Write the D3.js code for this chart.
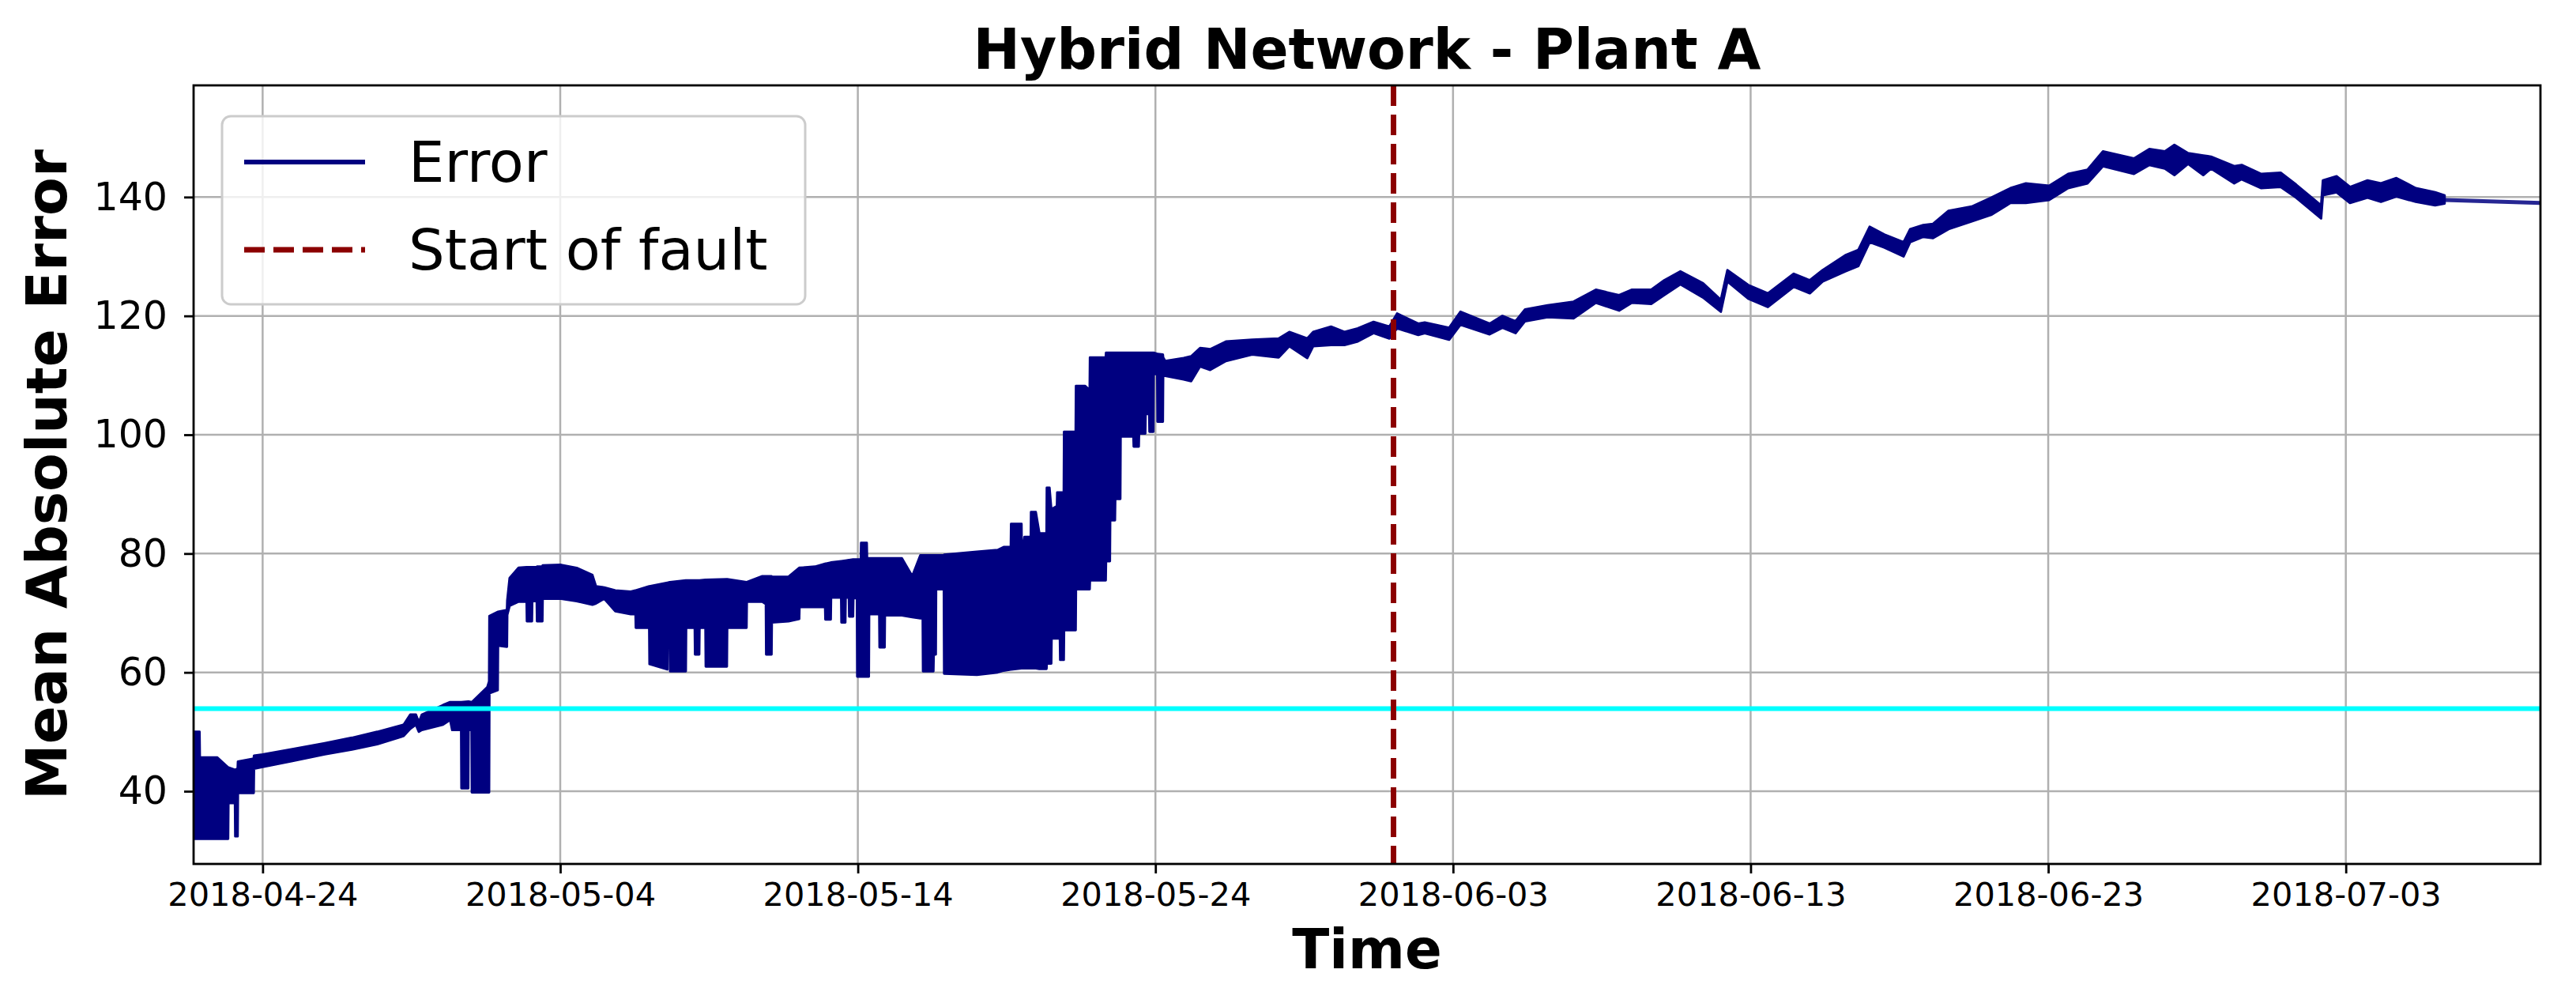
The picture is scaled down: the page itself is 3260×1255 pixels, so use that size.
<!DOCTYPE html>
<html>
<head>
<meta charset="utf-8">
<script src="https://cdn.jsdelivr.net/npm/d3@7"></script>
<style>
  html, body { margin: 0; padding: 0; background: #ffffff; }
  svg { display: block; font-family: "DejaVu Sans", sans-serif; }
</style>
</head>
<body>
<svg id="chart" width="3260" height="1255"></svg>
<script>
// ---------------- DATA ----------------
// Days are counted from this date (UTC).
const dayBase = "2018-04-24";

// Envelope of the noisy "Error" series: [day offset, upper edge, lower edge]
const bandApril = [
  [-2.32, 50.0, 32.0], [-2.12, 50.0, 32.0], [-2.11, 45.7, 32.0], [-1.53, 45.7, 32.0],
  [-1.16, 44.0, 32.0], [-1.15, 44.0, 38.0], [-0.93, 43.6, 38.0], [-0.92, 43.6, 32.4],
  [-0.84, 43.8, 32.4], [-0.83, 45.0, 39.7], [-0.30, 45.5, 39.7], [-0.29, 46.0, 43.8],
  [0.00, 46.2, 44.1], [1.00, 47.1, 45.1], [2.09, 48.1, 46.2], [3.00, 49.0, 47.0],
  [3.85, 50.0, 47.9], [4.74, 51.2, 49.3], [4.96, 52.9, 50.5], [5.15, 52.9, 51.2],
  [5.25, 51.6, 50.0], [5.35, 52.9, 50.3], [6.06, 54.5, 51.2], [6.30, 55.0, 52.0],
  [6.37, 55.0, 50.3], [6.67, 55.0, 50.3], [6.68, 55.0, 40.5], [6.91, 55.1, 40.5],
  [6.92, 55.1, 50.3], [7.02, 55.0, 50.3], [7.03, 55.0, 39.8], [7.55, 57.5, 39.8],
  [7.61, 58.5, 39.8], [7.62, 69.5, 56.5], [7.90, 70.2, 57.0], [7.91, 70.2, 64.5],
  [8.21, 70.5, 64.3], [8.22, 72.1, 69.7], [8.30, 75.9, 71.2], [8.60, 77.6, 71.9],
  [8.87, 77.7, 71.9], [8.88, 77.7, 68.6], [9.05, 77.7, 68.6], [9.06, 77.7, 72.0],
  [9.21, 77.7, 72.0], [9.22, 77.8, 68.6], [9.40, 77.8, 68.6], [9.41, 78.0, 72.4],
  [10.03, 78.1, 72.4], [10.55, 77.6, 72.0], [11.08, 76.4, 71.4], [11.20, 74.5, 71.6]
];

const bandMay = [
  [11.48, 74.3, 72.4], [11.85, 73.8, 70.3], [12.37, 73.6, 69.8], [12.53, 73.8, 69.8],
  [12.54, 73.8, 67.5], [12.99, 74.5, 67.5], [13.00, 74.5, 61.4], [13.60, 75.1, 60.5],
  [13.61, 75.1, 67.5], [13.68, 75.2, 67.5], [13.69, 75.2, 60.2], [14.22, 75.5, 60.2],
  [14.23, 75.5, 67.5], [14.52, 75.5, 67.5], [14.53, 75.5, 63.0], [14.67, 75.5, 63.0],
  [14.68, 75.5, 67.5], [14.88, 75.6, 67.5], [14.89, 75.6, 61.0], [15.60, 75.7, 61.0],
  [15.61, 75.7, 67.5], [16.26, 75.2, 67.5], [16.27, 75.2, 71.9], [16.79, 76.2, 71.9],
  [16.91, 76.2, 71.5], [16.92, 76.2, 63.0], [17.10, 76.2, 63.0], [17.11, 76.1, 68.4],
  [17.67, 76.1, 68.6], [18.03, 77.6, 69.0], [18.04, 77.6, 71.0], [18.56, 77.8, 71.0],
  [18.90, 78.3, 71.0], [18.91, 78.3, 68.9], [19.09, 78.5, 68.9], [19.10, 78.5, 72.6],
  [19.44, 78.7, 72.6], [19.45, 78.7, 68.4], [19.58, 78.8, 68.4], [19.59, 78.8, 72.6],
  [19.70, 78.9, 72.6], [19.71, 78.9, 69.4], [19.84, 79.0, 69.4], [19.85, 79.0, 72.5],
  [19.97, 79.0, 72.5], [19.98, 79.0, 59.3], [20.10, 79.0, 59.3], [20.11, 81.8, 59.3],
  [20.30, 81.8, 59.3], [20.31, 79.2, 59.3], [20.37, 79.2, 59.3], [20.38, 79.2, 69.8],
  [20.72, 79.2, 69.8], [20.73, 79.2, 64.2], [20.90, 79.2, 64.2], [20.91, 79.2, 69.6],
  [21.48, 79.2, 69.6], [21.83, 76.2, 69.3], [22.10, 79.7, 69.1], [22.18, 79.7, 69.1],
  [22.19, 79.7, 60.2], [22.54, 79.7, 60.2], [22.55, 79.7, 63.0], [22.62, 79.7, 63.0],
  [22.63, 79.7, 74.0], [22.89, 79.7, 74.0], [22.90, 79.8, 59.8], [24.00, 80.3, 59.6],
  [24.70, 80.6, 60.0], [24.90, 81.1, 60.3], [25.14, 81.1, 60.5], [25.15, 85.0, 60.5],
  [25.50, 85.0, 60.7], [25.51, 79.5, 60.7], [25.60, 82.8, 60.7], [25.81, 82.8, 60.7],
  [25.82, 87.0, 60.7], [25.98, 87.0, 60.7], [26.10, 83.4, 60.6], [26.34, 83.4, 60.6],
  [26.35, 91.1, 61.5], [26.44, 91.1, 61.5], [26.50, 87.5, 61.5], [26.51, 87.5, 65.7],
  [26.69, 88.0, 65.7], [26.70, 90.3, 65.7], [26.79, 90.3, 65.7], [26.80, 90.3, 62.1],
  [26.92, 90.3, 62.1], [26.93, 100.5, 67.1], [27.32, 100.5, 67.1], [27.33, 108.2, 74.0],
  [27.64, 108.2, 74.0], [27.79, 107.5, 74.0], [27.80, 113.0, 75.5], [28.33, 113.0, 75.5],
  [28.34, 113.8, 78.7], [28.47, 113.8, 78.7], [28.48, 113.8, 85.6], [28.64, 113.8, 85.6],
  [28.65, 113.8, 89.2], [28.82, 113.8, 89.2], [28.83, 113.8, 99.7], [29.26, 113.8, 99.7],
  [29.27, 113.8, 98.0], [29.44, 113.8, 98.0], [29.45, 113.8, 100.2], [29.66, 113.8, 100.2],
  [29.67, 113.8, 103.5], [29.79, 113.8, 103.5], [29.80, 113.8, 100.5], [29.93, 113.8, 100.5],
  [29.94, 113.8, 110.2], [30.06, 113.6, 110.2], [30.07, 113.6, 102.2], [30.25, 113.5, 102.2],
  [30.26, 113.0, 109.9]
];

const bandJune = [
  [30.33, 112.4, 109.9], [30.95, 112.9, 109.3], [31.20, 113.2, 109.0], [31.50, 114.6, 111.5],
  [31.84, 114.4, 110.9], [32.37, 115.7, 112.4], [33.25, 116.0, 113.5], [34.14, 116.2, 113.0],
  [34.50, 117.3, 114.9], [35.10, 116.2, 112.9], [35.30, 117.3, 114.9], [35.90, 118.2, 115.1],
  [36.35, 117.3, 115.1], [36.80, 117.9, 115.7], [37.33, 119.0, 117.1], [37.86, 118.2, 116.2],
  [38.12, 120.4, 117.9], [38.83, 118.7, 116.8], [39.05, 118.9, 117.1], [39.87, 118.0, 116.0],
  [40.25, 120.7, 118.5], [41.23, 118.7, 116.9], [41.66, 120.0, 118.0], [42.10, 119.1, 117.1],
  [42.42, 121.1, 119.1], [43.18, 121.8, 119.8], [44.05, 122.4, 119.6], [44.80, 124.4, 122.2],
  [45.58, 123.5, 120.9], [46.00, 124.4, 122.2], [46.66, 124.4, 122.0], [47.10, 126.0, 123.5],
  [47.64, 127.5, 125.3], [48.40, 125.5, 123.1], [49.00, 122.7, 120.7], [49.22, 127.7, 125.8],
  [49.92, 125.2, 122.9], [50.58, 123.8, 121.5], [51.45, 127.1, 124.9], [51.99, 126.0, 123.8],
  [52.42, 127.7, 125.8], [53.18, 130.2, 127.5], [53.62, 131.1, 128.4], [54.00, 135.0, 132.4],
  [54.49, 133.7, 131.5], [55.14, 132.4, 130.0], [55.36, 134.6, 132.4], [55.80, 135.3, 133.3]
];

const bandJuly = [
  [56.13, 135.5, 133.1], [56.65, 137.7, 134.6], [57.43, 138.4, 135.9], [58.08, 139.9, 137.0],
  [58.73, 141.5, 139.0], [59.25, 142.3, 139.0], [60.03, 141.9, 139.5], [60.67, 143.9, 141.5],
  [61.32, 144.6, 142.3], [61.84, 147.7, 145.2], [62.88, 146.5, 143.9], [63.40, 148.1, 145.4],
  [63.92, 147.7, 144.8], [64.24, 148.8, 143.7], [64.70, 147.4, 145.6], [65.21, 147.0, 143.7],
  [65.47, 146.8, 144.8], [66.25, 145.2, 142.3], [66.50, 145.4, 143.0], [67.16, 143.9, 141.5],
  [67.81, 144.1, 141.7], [68.33, 142.1, 139.9], [69.17, 138.6, 136.4], [69.23, 142.8, 140.3],
  [69.69, 143.5, 140.8], [70.14, 141.7, 139.0], [70.73, 142.8, 139.9], [71.18, 142.3, 139.2],
  [71.70, 143.2, 140.1], [72.35, 141.5, 139.2], [73.00, 140.8, 138.6], [73.32, 140.3, 138.9]
];

// Smooth tail of the Error series after the noisy part ends
const tailDays = [73.32, 76.54];
const tailValues = [139.5, 139.0];

// Reference lines
const thresholdValue = 53.9;
const faultDate = "2018-06-01";

// Axes
const yLimits = [27.76, 158.8];
const yTickValues = [40, 60, 80, 100, 120, 140];
const xTickLabels = ["2018-04-24", "2018-05-04", "2018-05-14", "2018-05-24",
                     "2018-06-03", "2018-06-13", "2018-06-23", "2018-07-03"];

const titleText = "Hybrid Network - Plant A";
const xLabelText = "Time";
const yLabelText = "Mean Absolute Error";
const legendLabels = ["Error", "Start of fault"];

// ---------------- DRAWING ----------------
const parseDay = d3.utcParse("%Y-%m-%d");
const base = parseDay(dayBase).getTime();
const toDate = d => new Date(base + d * 864e5);

const band = [...bandApril, ...bandMay, ...bandJune, ...bandJuly]
  .map(([d, hi, lo]) => ({ t: toDate(d), hi, lo }));
const tail = tailDays.map((d, i) => ({ t: toDate(d), v: tailValues[i] }));

const plot = { left: 245, top: 108, right: 3215, bottom: 1093 };
const navy = "#000080";

const allTimes = band.map(p => p.t).concat(tail.map(p => p.t));
const x = d3.scaleUtc().domain(d3.extent(allTimes)).range([plot.left, plot.right]);
const y = d3.scaleLinear().domain(yLimits).range([plot.bottom, plot.top]);

const svg = d3.select("#chart");

svg.append("defs").append("clipPath").attr("id", "plotclip")
  .append("rect")
  .attr("x", plot.left).attr("y", plot.top)
  .attr("width", plot.right - plot.left).attr("height", plot.bottom - plot.top);

const xTicks = xTickLabels.map(parseDay);

// grid
const grid = svg.append("g").attr("stroke", "#b0b0b0").attr("stroke-width", 2.5);
grid.selectAll("line.v").data(xTicks).join("line").attr("class", "v")
  .attr("x1", d => x(d)).attr("x2", d => x(d))
  .attr("y1", plot.top).attr("y2", plot.bottom);
grid.selectAll("line.h").data(yTickValues).join("line").attr("class", "h")
  .attr("x1", plot.left).attr("x2", plot.right)
  .attr("y1", d => y(d)).attr("y2", d => y(d));

const data = svg.append("g").attr("clip-path", "url(#plotclip)");

// Error band
const area = d3.area()
  .x(p => x(p.t))
  .y0(p => y(p.lo))
  .y1(p => y(p.hi));
data.append("path")
  .datum(band)
  .attr("d", area)
  .attr("fill", navy)
  .attr("stroke", navy)
  .attr("stroke-width", 3)
  .attr("stroke-linejoin", "round");

// Tail line
data.append("path")
  .datum(tail)
  .attr("d", d3.line().x(p => x(p.t)).y(p => y(p.v)))
  .attr("fill", "none")
  .attr("stroke", navy)
  .attr("stroke-opacity", 0.85)
  .attr("stroke-width", 5);

// Threshold (cyan)
data.append("line")
  .attr("x1", plot.left).attr("x2", plot.right)
  .attr("y1", y(thresholdValue)).attr("y2", y(thresholdValue))
  .attr("stroke", "#00ffff").attr("stroke-width", 6);

// Fault line
const fx = x(parseDay(faultDate));
data.append("line")
  .attr("x1", fx).attr("x2", fx)
  .attr("y1", plot.top).attr("y2", plot.bottom)
  .attr("stroke", "#8b0000").attr("stroke-width", 7)
  .attr("stroke-dasharray", "26,11");

// Axes
const xAxis = d3.axisBottom(x).tickValues(xTicks)
  .tickFormat(d3.utcFormat("%Y-%m-%d")).tickSize(12).tickPadding(12);
const gx = svg.append("g").attr("transform", `translate(0,${plot.bottom})`).call(xAxis);
gx.select(".domain").remove();
gx.selectAll(".tick line").attr("stroke", "#000").attr("stroke-width", 2.8);
gx.selectAll(".tick text").attr("font-size", "41.5px").attr("fill", "#000")
  .attr("font-family", "DejaVu Sans");

const yAxis = d3.axisLeft(y).tickValues(yTickValues).tickSize(12).tickPadding(21);
const gy = svg.append("g").attr("transform", `translate(${plot.left},0)`).call(yAxis);
gy.select(".domain").remove();
gy.selectAll(".tick line").attr("stroke", "#000").attr("stroke-width", 2.8);
gy.selectAll(".tick text").attr("font-size", "49px").attr("fill", "#000")
  .attr("font-family", "DejaVu Sans");

// Spines
svg.append("rect")
  .attr("x", plot.left).attr("y", plot.top)
  .attr("width", plot.right - plot.left).attr("height", plot.bottom - plot.top)
  .attr("fill", "none").attr("stroke", "#000").attr("stroke-width", 2.8);

// Title and labels
svg.append("text").text(titleText)
  .attr("x", (plot.left + plot.right) / 2).attr("y", 87)
  .attr("text-anchor", "middle").attr("font-weight", "bold").attr("font-size", "71px");

svg.append("text").text(xLabelText)
  .attr("x", (plot.left + plot.right) / 2).attr("y", 1225)
  .attr("text-anchor", "middle").attr("font-weight", "bold").attr("font-size", "69px");

svg.append("text").text(yLabelText)
  .attr("transform", `translate(84,${(plot.top + plot.bottom) / 2}) rotate(-90)`)
  .attr("text-anchor", "middle").attr("font-weight", "bold").attr("font-size", "71px");

// Legend
const lg = svg.append("g");
lg.append("rect")
  .attr("x", 281).attr("y", 147).attr("width", 738).attr("height", 238)
  .attr("rx", 11).attr("ry", 11)
  .attr("fill", "#fff").attr("fill-opacity", 0.8)
  .attr("stroke", "#cccccc").attr("stroke-width", 3);
const legendStyles = [
  { color: navy, width: 6, dash: null, y: 205 },
  { color: "#8b0000", width: 7, dash: "26,11", y: 316 }
];
legendLabels.forEach((label, i) => {
  const s = legendStyles[i];
  lg.append("line")
    .attr("x1", 309).attr("x2", 462).attr("y1", s.y).attr("y2", s.y)
    .attr("stroke", s.color).attr("stroke-width", s.width)
    .attr("stroke-dasharray", s.dash);
  lg.append("text").text(label)
    .attr("x", 517).attr("y", s.y + 25)
    .attr("font-size", "72px").attr("fill", "#000");
});
</script>
</body>
</html>
